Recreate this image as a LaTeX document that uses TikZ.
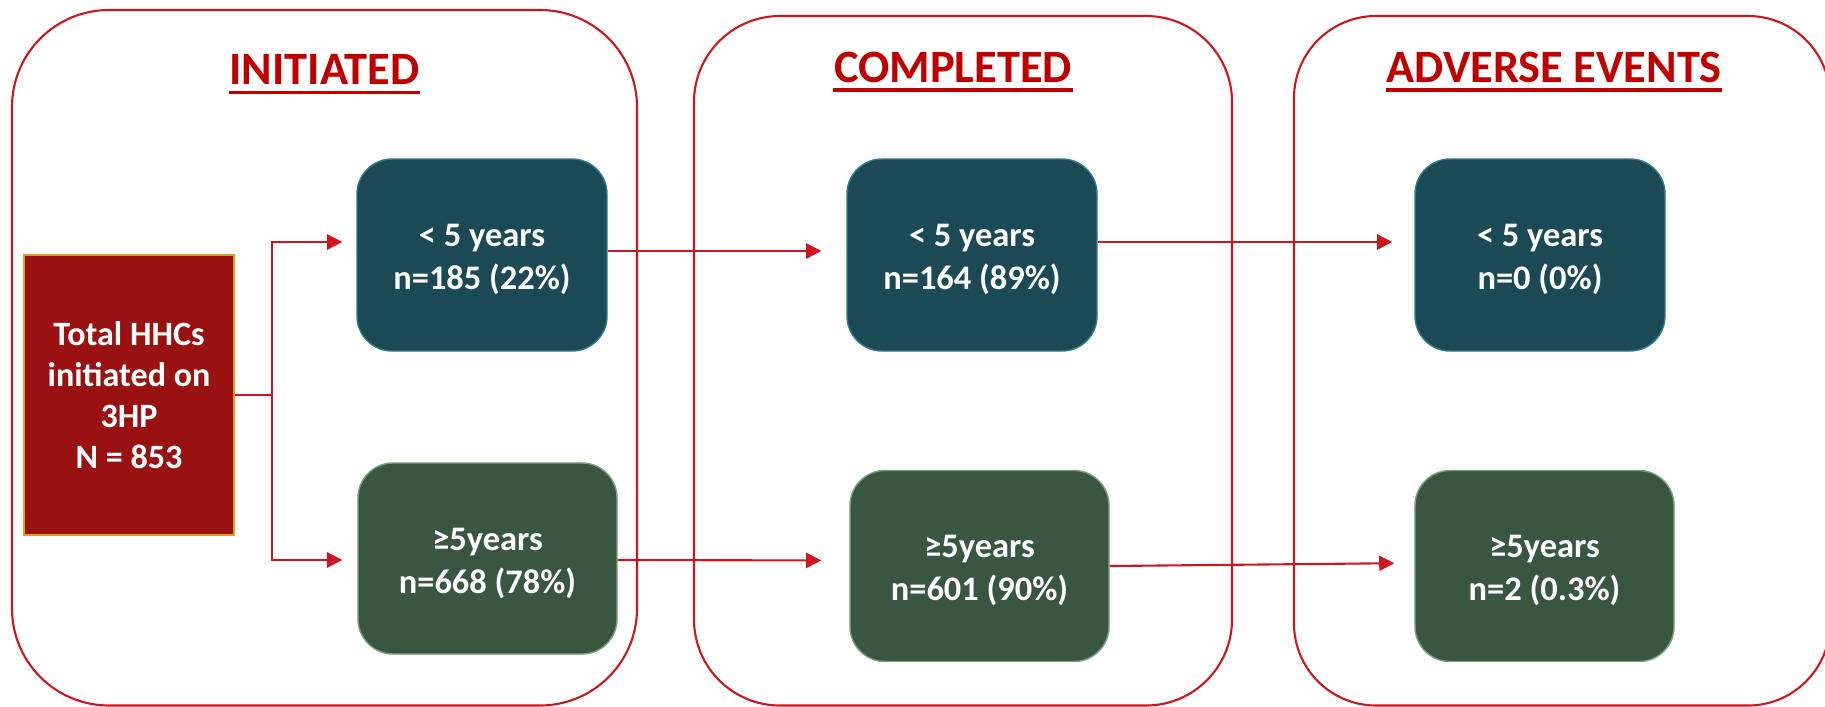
\documentclass[tikz,border=0pt]{standalone}
\usepackage{fontspec}
\setmainfont{Carlito}
\usepackage{xcolor}
\usetikzlibrary{arrows.meta}
\definecolor{hdred}{RGB}{192,0,0}
\definecolor{lnred}{RGB}{206,22,30}
\definecolor{boxred}{RGB}{154,17,18}
\definecolor{goldedge}{RGB}{222,160,24}
\definecolor{boxteal}{RGB}{27,73,85}
\definecolor{tealedge}{RGB}{45,125,140}
\definecolor{boxgreen}{RGB}{57,86,64}
\definecolor{greenedge}{RGB}{120,160,125}
\newcommand{\topstrut}{\rule{0pt}{9pt}}

\begin{document}
\begin{tikzpicture}[>={Triangle[length=4.3pt,width=4.3pt]},
  font=\bfseries\fontsize{9.8}{12.2}\selectfont,
  panel/.style={draw=lnred,line width=0.6pt,rounded corners=#1},
  head/.style={text=hdred,font=\bfseries\fontsize{13.2}{16}\selectfont,inner sep=0pt,anchor=base},
  uline/.style={hdred,line width=0.95pt},
  total/.style={fill=boxred,draw=goldedge,line width=0.4pt,text=white,align=center,
    minimum width=2.1cm,minimum height=2.8cm,font=\bfseries\fontsize{9.7}{11.7}\selectfont},
  young/.style={fill=boxteal,draw=tealedge,line width=0.4pt,rounded corners=0.35cm,
    text=white,align=center,minimum width=2.5cm,minimum height=1.92cm},
  old/.style={fill=boxgreen,draw=greenedge,line width=0.4pt,rounded corners=0.35cm,
    text=white,align=center,minimum width=2.59cm,minimum height=1.91cm},
  link/.style={lnred,line width=0.6pt}]
  \useasboundingbox (0,0) rectangle (18.25,7.06);
  % stage panels
  \draw[panel=0.97cm] (0.12,0.005) rectangle (6.37,6.96);
  \draw[panel=0.86cm] (6.94,0.005) rectangle (12.32,6.90);
  \draw[panel=0.82cm] (12.94,0.005) rectangle (18.30,6.90);
  % headings
  \node[head] (ini) at (3.245,6.215) {INITIATED};
  \node[head] (cmp) at (9.53,6.24) {COMPLETED};
  \node[head] (ade) at (15.54,6.24) {ADVERSE EVENTS};
  \foreach \h in {ini,cmp,ade}
    \draw[uline] ([yshift=-2.3pt]\h.base west) -- ([yshift=-2.3pt]\h.base east);
  % boxes
  \node[total] (tot) at (1.29,3.11) {Total HHCs\\initiated on\\3HP\\N = 853};
  \node[young] (y1) at (4.82,4.51) {\topstrut< 5 years\\n=185 (22\%)};
  \node[old] (o1) at (4.875,1.475) {\topstrut≥5years\\n=668 (78\%)};
  \node[young] (y2) at (9.72,4.51) {\topstrut< 5 years\\n=164 (89\%)};
  \node[old] (o2) at (9.795,1.40) {\topstrut≥5years\\n=601 (90\%)};
  \node[young] (y3) at (15.40,4.51) {\topstrut< 5 years\\n=0 (0\%)};
  \node[old] (o3) at (15.445,1.40) {\topstrut≥5years\\n=2 (0.3\%)};
  % connectors
  \coordinate (fork) at (2.72,3.11);
  \draw[link] (tot.east) -- (fork);
  \draw[link,->,shorten >=0.14cm] (fork) |- ([yshift=1.3mm]y1.west);
  \draw[link,->,shorten >=0.15cm] (fork) |- ([yshift=-0.15mm]o1.west);
  \draw[link,->,shorten >=0.25cm] ([yshift=0.4mm]y1.east) -- ([yshift=0.4mm]y2.west);
  \draw[link,->,shorten >=0.22cm] ([yshift=1.3mm]y2.east) -- ([yshift=1.3mm]y3.west);
  \draw[link,->,shorten >=0.28cm] ([yshift=-0.15mm]o1.east) -- ([yshift=0.55mm]o2.west);
  \draw[link,->,shorten >=0.20cm] (o2.east) -- ([yshift=0.3mm]o3.west);
\end{tikzpicture}
\end{document}
